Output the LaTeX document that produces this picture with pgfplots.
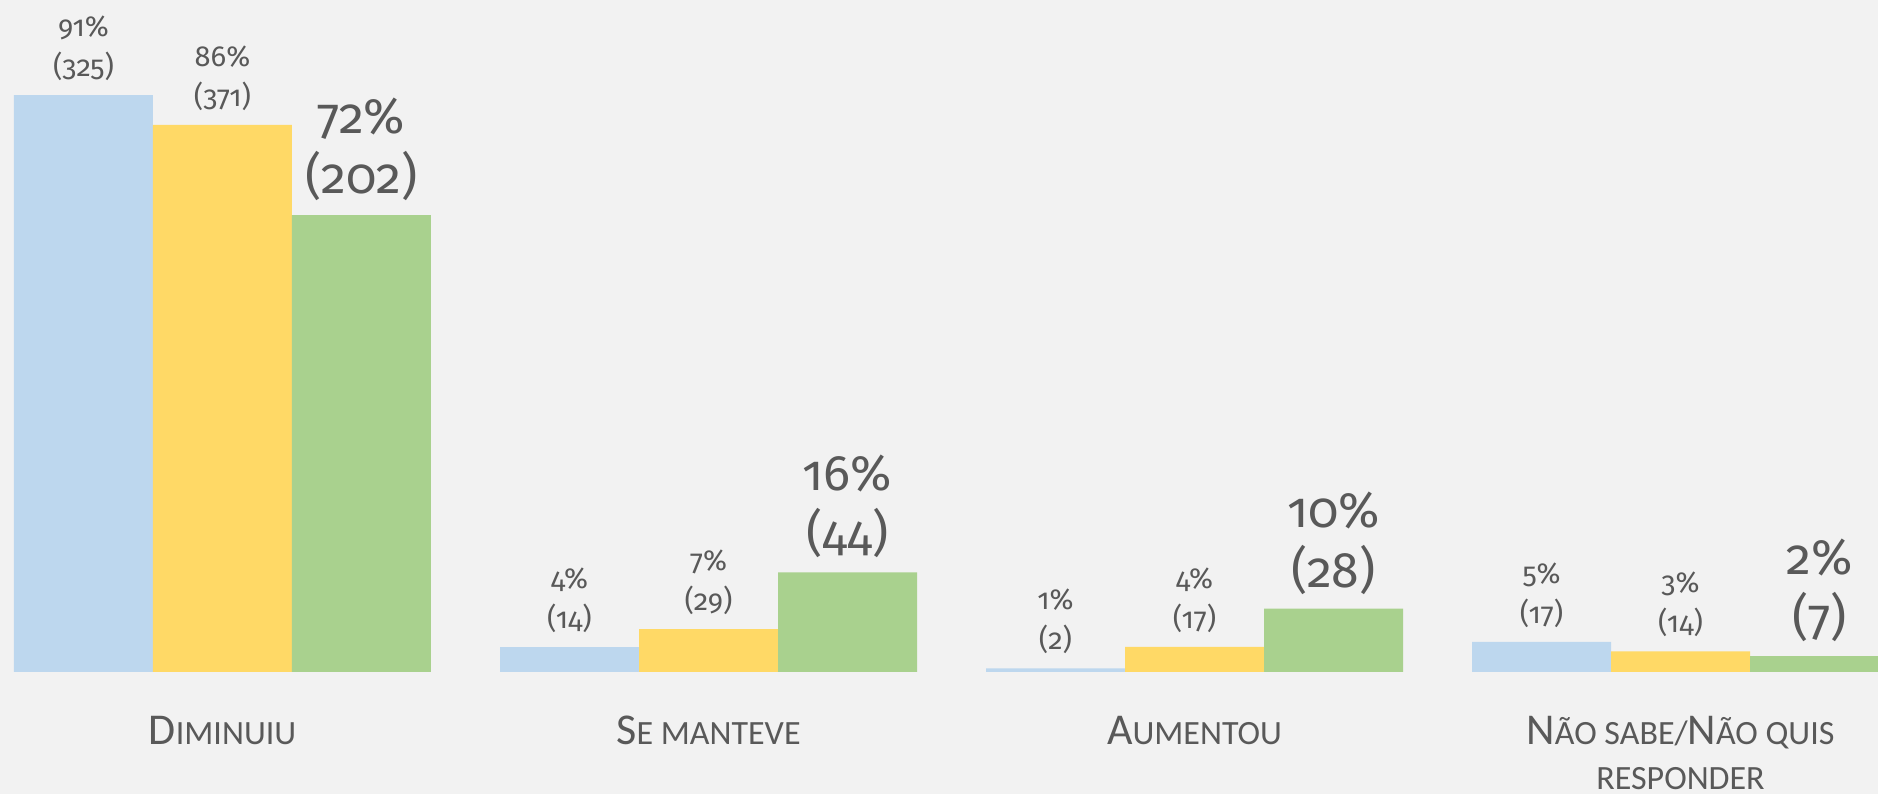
\documentclass[border=0pt]{standalone}
\usepackage{fontspec}
\setmainfont{Carlito}
\newfontfamily\numf{Fira Sans}[Numbers=OldStyle]
\usepackage{pgfplots}
\pgfplotsset{compat=1.18}
\definecolor{bg}{HTML}{F2F2F2}
\definecolor{txt}{HTML}{595959}
\definecolor{cblue}{HTML}{BDD7EE}
\definecolor{cyellow}{HTML}{FFD966}
\definecolor{cgreen}{HTML}{A9D18E}
% fake small caps as in the original
\newcommand{\bigc}[1]{{\fontsize{22}{22}\selectfont #1}}
% two-line label, baseline on its first line
\newcommand{\naosabe}{\vtop{\halign{\hfil##\hfil\cr
  \bigc{N}\~{A}O SABE/\bigc{N}\~{A}O QUIS\cr RESPONDER\cr}}}
\begin{document}
\begin{tikzpicture}
\fill[bg] (0,0) rectangle (939pt,397pt);
\useasboundingbox (0,0) rectangle (939pt,397pt);
\begin{axis}[
  at={(0,0)}, anchor=south west,
  scale only axis, width=939pt, height=397pt,
  xmin=-0.4578, xmax=3.4064,
  ymin=-19.20, ymax=105.74,
  axis line style={draw=none},
  major tick style={draw=none},
  ytick=\empty,
  xtick={0,1,2,3},
  xticklabels={{\bigc{D}IMINUIU},{\bigc{S}E MANTEVE},{\bigc{A}UMENTOU},{\naosabe}},
  xticklabel style={anchor=base, inner sep=0pt, yshift=29pt,
    text=txt, font={\fontsize{17}{22.5}\selectfont}},
  ybar, bar width=0.286,
  point meta=explicit symbolic,
  nodes near coords,
  every node near coord/.append style={anchor=south, inner sep=0pt, yshift=7pt,
    align=center, text=txt},
]
\addplot[fill=cblue, draw=none, bar shift=-0.286,
  every node near coord/.append style={font={\numf\fontsize{14.5}{20}\selectfont}}]
  coordinates {(0,90.78)[{91\%\\(325)}] (1,3.91)[{4\%\\(14)}] (2,0.56)[{1\%\\(2)}] (3,4.75)[{5\%\\(17)}]};
\addplot[fill=cyellow, draw=none, bar shift=0,
  every node near coord/.append style={font={\numf\fontsize{14.5}{20}\selectfont}}]
  coordinates {(0,86.08)[{86\%\\(371)}] (1,6.73)[{7\%\\(29)}] (2,3.94)[{4\%\\(17)}] (3,3.25)[{3\%\\(14)}]};
\addplot[fill=cgreen, draw=none, bar shift=0.286,
  every node near coord/.append style={font={\numf\fontsize{25}{30}\selectfont}}]
  coordinates {(0,71.89)[{72\%\\(202)}] (1,15.66)[{16\%\\(44)}] (2,9.96)[{10\%\\(28)}] (3,2.49)[{2\%\\(7)}]};
\end{axis}
\end{tikzpicture}
\end{document}
